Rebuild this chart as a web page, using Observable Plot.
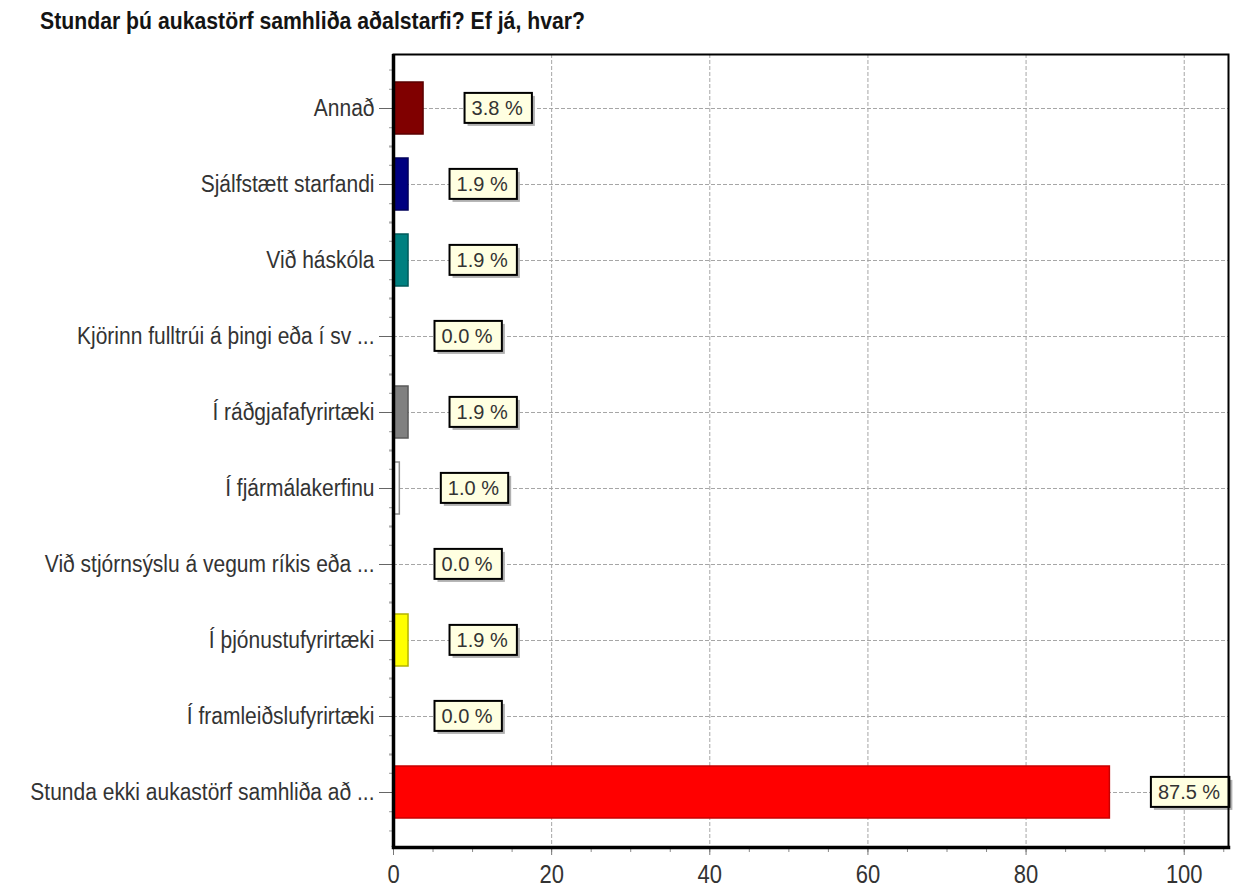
<!DOCTYPE html>
<html>
<head>
<meta charset="utf-8">
<script src="https://cdn.jsdelivr.net/npm/d3@7"></script>
<script src="https://cdn.jsdelivr.net/npm/@observablehq/plot@0.6"></script>
<style>
  html, body { margin: 0; padding: 0; background: #fff; width: 1244px; height: 888px; overflow: hidden; }
  #title { height: 44px; box-sizing: border-box; padding-left: 40px; white-space: nowrap; color: #141414; font-weight: bold; line-height: 1; }
  #title span { display: inline-block; transform-origin: 0 70%; }
  #chart svg { display: block; }
</style>
</head>
<body>
<div id="title"><span>Stundar þú aukastörf samhliða aðalstarfi? Ef já, hvar?</span></div>
<div id="chart"></div>
<script>
// ---- data ----
const categories = [
  "Annað",
  "Sjálfstætt starfandi",
  "Við háskóla",
  "Kjörinn fulltrúi á þingi eða í sv ...",
  "Í ráðgjafafyrirtæki",
  "Í fjármálakerfinu",
  "Við stjórnsýslu á vegum ríkis eða ...",
  "Í þjónustufyrirtæki",
  "Í framleiðslufyrirtæki",
  "Stunda ekki aukastörf samhliða að ..."
];
// bar lengths as drawn
const barValues = [3.8, 1.9, 1.9, 0, 1.9, 0.8, 0, 1.9, 0, 90.6];
// percentages printed in the label boxes
const percentLabels = [3.8, 1.9, 1.9, 0.0, 1.9, 1.0, 0.0, 1.9, 0.0, 87.5];
const barFills = ["#800000", "#000080", "#008080", "#808080", "#808080", "#ffffff", "#ffffff", "#ffff00", "#ffffff", "#ff0000"];
const barStrokes = ["#5a0000", "#00005a", "#005a5a", "#5a5a5a", "#5a5a5a", "#8c8c8c", "#8c8c8c", "#b4b400", "#8c8c8c", "#c80000"];
const majorTicks = [0, 20, 40, 60, 80, 100];
const minorTicks = d3.range(0, 106, 5);

// ---- font choice ----
function hasFont(name) {
  const c = document.createElement("canvas").getContext("2d");
  const t = "abcdefghijklmnopqrstuvwxyzABCDEFGHIJ0123456789";
  c.font = "40px monospace";
  const w1 = c.measureText(t).width;
  c.font = `40px '${name}', monospace`;
  const w2 = c.measureText(t).width;
  return Math.abs(w1 - w2) > 0.5;
}
const narrow = hasFont("Liberation Sans Narrow");
const FAMILY = narrow ? "'Liberation Sans Narrow', 'Liberation Sans', Arial, sans-serif" : "'Liberation Sans', Arial, sans-serif";
const labelFS = narrow ? 25 : 21;
const tickFS = narrow ? 26 : 22;
const boxFS = narrow ? 24 : 20;
const titleFS = narrow ? 26 : 21;

// ---- title ----
const titleDiv = document.getElementById("title");
titleDiv.style.fontFamily = FAMILY;
titleDiv.style.fontSize = titleFS + "px";
titleDiv.style.paddingTop = Math.round(29 - 0.8465 * titleFS) + "px";
const titleSpan = titleDiv.querySelector("span");
const tw = titleSpan.getBoundingClientRect().width;
titleSpan.style.transform = `scale(${545 / tw}, ${narrow ? 1 : 1.1})`;

// ---- chart ----
const data = categories.map((c, i) => ({
  category: c, value: barValues[i], pct: percentLabels[i], fill: barFills[i], stroke: barStrokes[i]
}));

const W = 1244, H = 844, mT = 10, mB = 41, mL = 393, mR = 16;
const pad = 0.31;
const step = (H - mT - mB) / (categories.length - pad + 2 * pad);
const minorOffsets = [-0.5, -0.25, 0.25, 0.5].map(f => f * step);

const plot = Plot.plot({
  width: W, height: H,
  marginTop: mT, marginBottom: mB, marginLeft: mL, marginRight: mR,
  style: { fontFamily: FAMILY, fontSize: labelFS + "px", color: "#333", background: "#fff" },
  x: { domain: [0, 105.6] },
  y: { domain: categories, padding: pad },
  color: { type: "identity" },
  marks: [
    Plot.gridX({ ticks: [20, 40, 60, 80, 100], stroke: "#a6a6a6", strokeOpacity: 1, strokeDasharray: "4,2" }),
    Plot.gridY({ stroke: "#a6a6a6", strokeOpacity: 1, strokeDasharray: "4,2" }),
    Plot.barX(data, { y: "category", x: "value", fill: "fill", stroke: "stroke", strokeWidth: 1.5 }),
    Plot.text(data, {
      y: "category", x: "value",
      text: d => d.pct.toFixed(1) + " %",
      textAnchor: "start", dx: 48, fill: "#333", fontSize: boxFS
    }),
    Plot.axisX({ ticks: minorTicks, tickSize: 5, tickFormat: () => "", stroke: "#8a8a8a", label: null }),
    Plot.axisX({ ticks: majorTicks, tickSize: 8, tickPadding: 9, fontSize: tickFS, stroke: "#777", label: null }),
    ...minorOffsets.map(o => Plot.axisY({ tickSize: 4, tickFormat: () => "", dy: o, stroke: "#9a9a9a", label: null })),
    Plot.axisY({ tickSize: 14, tickPadding: 5, fontSize: labelFS, stroke: "#666", label: null }),
    Plot.frame({ stroke: "#000", strokeWidth: 2 }),
    Plot.frame({ anchor: "bottom", stroke: "#000", strokeWidth: 3.5 }),
    Plot.ruleX([0], { stroke: "#000", strokeWidth: 3.5 })
  ]
});

document.getElementById("chart").append(plot);

// ---- slight vertical stretch of the text glyphs (the original is taller) ----
function stretch(textEl, s) {
  const x = +textEl.getAttribute("x") || 0;
  const y = +textEl.getAttribute("y") || 0;
  const old = textEl.getAttribute("transform") || "";
  textEl.setAttribute("transform", `${old} translate(${x},${y}) scale(1,${s}) translate(${-x},${-y})`);
}
if (!narrow) {
  plot.querySelectorAll('g[aria-label="y-axis tick label"] text').forEach(t => stretch(t, 1.12));
  plot.querySelectorAll('g[aria-label="x-axis tick label"] text').forEach(t => stretch(t, 1.2));
}

// ---- boxes behind the value labels ----
const ns = "http://www.w3.org/2000/svg";
const sRect = plot.getBoundingClientRect();
const labelTexts = [...plot.querySelectorAll("text")].filter(t => /%\s*$/.test(t.textContent));
if (labelTexts.length) {
  const grp = labelTexts[0].parentNode;
  const boxes = document.createElementNS(ns, "g");
  labelTexts.forEach(t => {
    const r = t.getBoundingClientRect();
    const x = r.left - sRect.left - 7;
    const w = r.width + 16;
    const cy = (r.top + r.bottom) / 2 - sRect.top;
    const h = 30;
    const sh = document.createElementNS(ns, "rect");
    sh.setAttribute("x", x + 3); sh.setAttribute("y", cy - h / 2 + 3);
    sh.setAttribute("width", w); sh.setAttribute("height", h);
    sh.setAttribute("fill", "#b0b0b0");
    boxes.append(sh);
    const bx = document.createElementNS(ns, "rect");
    bx.setAttribute("x", x); bx.setAttribute("y", cy - h / 2);
    bx.setAttribute("width", w); bx.setAttribute("height", h);
    bx.setAttribute("fill", "#ffffe1");
    bx.setAttribute("stroke", "#000"); bx.setAttribute("stroke-width", 2);
    boxes.append(bx);
  });
  grp.parentNode.insertBefore(boxes, grp);
}
</script>
</body>
</html>
